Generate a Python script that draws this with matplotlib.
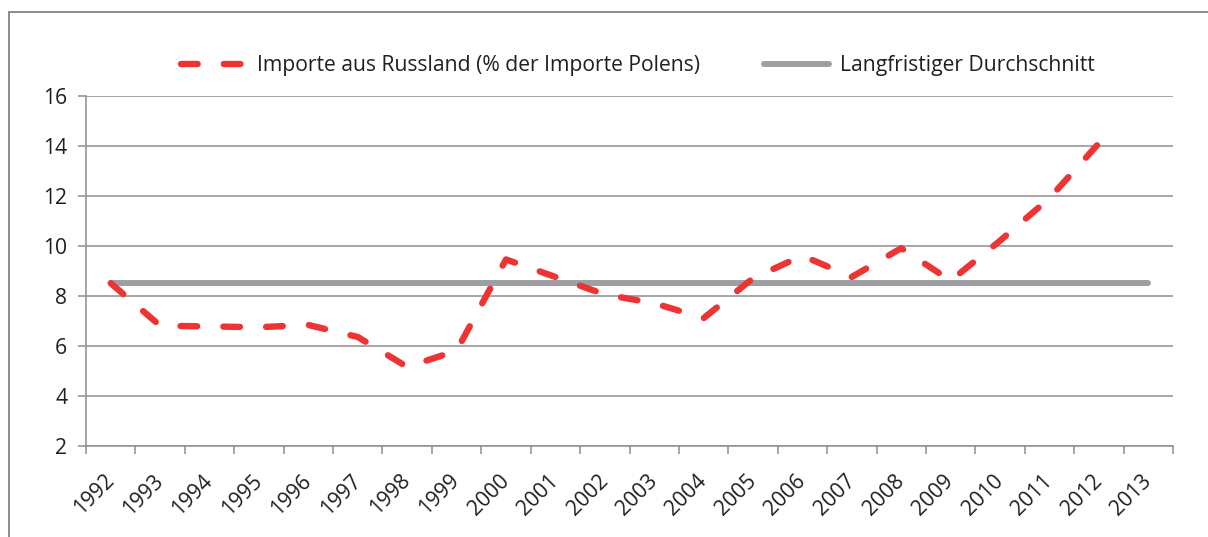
import matplotlib
matplotlib.use("Agg")
import matplotlib.pyplot as plt
from matplotlib.lines import Line2D
import numpy as np

# Daten
years = [str(y) for y in range(1992, 2014)]
importe_russland = [8.5, 6.8, 6.77, 6.74, 6.83, 6.35, 5.15, 5.8, 9.45, 8.75, 8.05,
                    7.7, 7.1, 8.7, 9.6, 8.75, 9.9, 8.6, 10.2, 11.9, 14.1]
durchschnitt = [8.5] * 22

RED = '#EE3333'
GREY_LINE = '#9D9FA2'
GRID = '#8E8E90'
TXT = '#231F20'
FS = 15.2

plt.rcParams['font.family'] = ['Open Sans', 'DejaVu Sans']

fig = plt.figure(figsize=(12.08, 5.37), dpi=100)
ax = fig.add_axes([86 / 1208, 1 - 445.7 / 537, (1173 - 86) / 1208, (445.7 - 95.7) / 537])

x_red = np.arange(len(importe_russland))
x_avg = np.arange(len(durchschnitt))

avg_line, = ax.plot(x_avg, durchschnitt, color=GREY_LINE, linewidth=4.3, solid_capstyle='round',
                    label='Langfristiger Durchschnitt', zorder=3)
red_line, = ax.plot(x_red, importe_russland, color=RED, linewidth=4.6, dashes=(2.6, 4.1),
                    dash_capstyle='round', label='Importe aus Russland (% der Importe Polens)', zorder=4)

ax.set_xlim(-0.5, len(years) - 0.5)
ax.set_ylim(2, 16)
ax.set_yticks(np.arange(2, 17, 2))
ax.yaxis.grid(True, color=GRID, linewidth=1.1)
ax.set_axisbelow(True)

ax.set_xticks(np.arange(len(years)))
ax.set_xticklabels(years, rotation=45, ha='right', va='center', rotation_mode='anchor')
ax.set_xticks(np.arange(len(years) + 1) - 0.5, minor=True)
ax.tick_params(axis='x', which='major', length=0, pad=23, labelsize=FS, labelcolor=TXT)
ax.tick_params(axis='x', which='minor', length=6, width=1.1, color=GRID, direction='out')
ax.tick_params(axis='y', length=5.5, width=1.1, color=GRID, pad=8, labelsize=FS, labelcolor=TXT)

for s in ['top', 'right']:
    ax.spines[s].set_visible(False)
for s in ['left', 'bottom']:
    ax.spines[s].set_color(GRID)
    ax.spines[s].set_linewidth(1.1)

handles = [red_line, avg_line]
labels = [h.get_label() for h in handles]
fig.legend(handles, labels, loc='center', bbox_to_anchor=(638 / 1208, 1 - 66 / 537),
           ncol=2, frameon=False, fontsize=FS, handlelength=3.1, handletextpad=0.5,
           columnspacing=3.0, labelcolor=TXT)

# Rahmen links und oben
fx = 9 / 1208
fy = 1 - 12 / 537
fig.add_artist(Line2D([fx, fx], [0, fy], transform=fig.transFigure, color='#8A8A8A', linewidth=1.4))
fig.add_artist(Line2D([fx, 1], [fy, fy], transform=fig.transFigure, color='#8A8A8A', linewidth=1.4))

fig.savefig('out.png', dpi=100)
